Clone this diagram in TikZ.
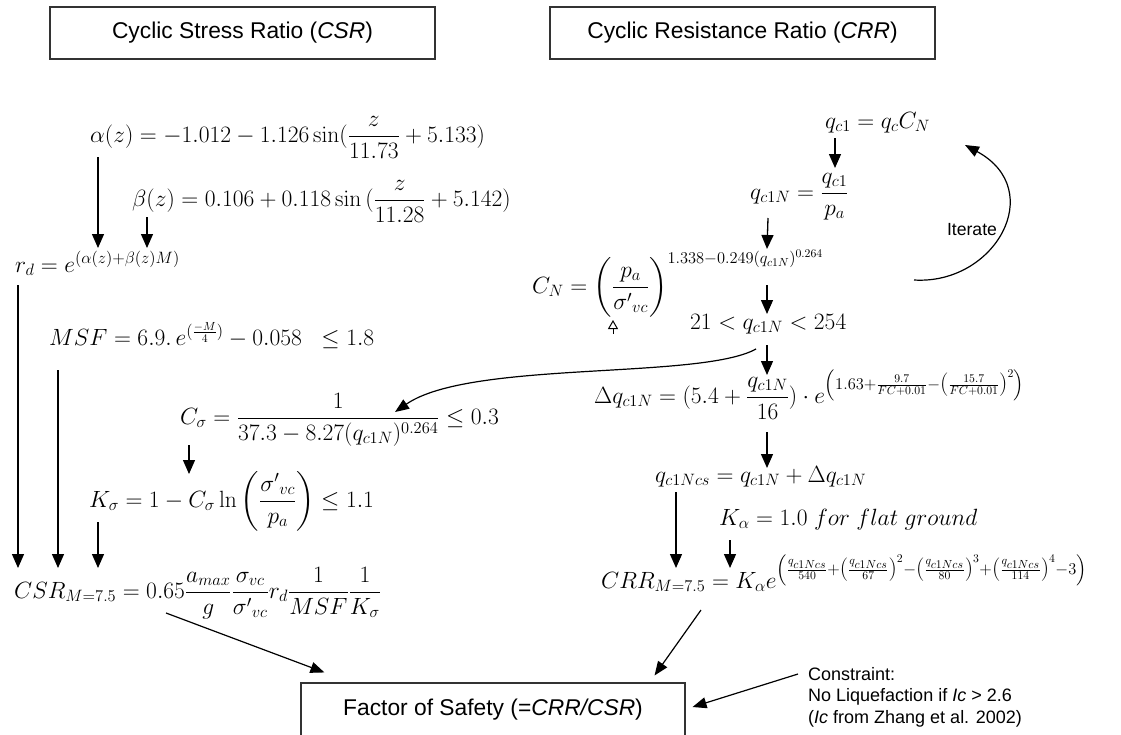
\RequirePackage{fix-cm}
\documentclass[tikz,border=0pt]{standalone}
\usepackage{amsmath}
\usepackage[no-math]{fontspec}
\setmainfont{Liberation Sans}
\usetikzlibrary{arrows.meta,calc}
\newcommand\eqfont{\fontsize{23.5}{28}\selectfont}
\tikzset{
  eq/.style={inner sep=0pt, anchor=base west, font=\eqfont},
  titlebox/.style={draw=black!80, line width=1.1pt, minimum width=385pt, minimum height=52pt, inner sep=0pt, font=\fontsize{22.8}{27}\selectfont},
  arr/.style={line width=1.3pt, -{Triangle[length=14pt,width=12pt]}},
  carr/.style={line width=1.2pt, -{Triangle[length=14pt,width=11pt]}},
  holl/.style={line width=1pt, -{Triangle[open,length=9pt,width=10pt]}},
  note/.style={font=\fontsize{18}{21.5}\selectfont, align=left, inner sep=0pt},
}
\begin{document}
\begin{tikzpicture}[x=1pt,y=-1pt]
\useasboundingbox (0,0) rectangle (1121,734);
% title boxes
\node[titlebox] (tcsr) at (242.5,33) {Cyclic Stress Ratio (\textit{CSR})};
\node[titlebox] (tcrr) at (742.5,33) {Cyclic Resistance Ratio (\textit{CRR})};
% left column
\node[eq] (alpha) at (90,142) {$\alpha(z) = -1.012 - 1.126\sin(\dfrac{z}{11.73} + 5.133)$};
\node[eq] (beta) at (132,206) {$\beta(z) = 0.106 + 0.118\sin\,(\dfrac{z}{11.28} + 5.142)$};
\node[eq] (rd) at (15,272) {$r_d = e^{(\alpha(z)+\beta(z)M)}$};
\node[eq] (msf) at (49,345) {$MSF = 6.9.\,e^{(\frac{-M}{4})} - 0.058\ \ \le 1.8$};
\node[eq] (cs) at (180,424) {$C_\sigma = \dfrac{1}{37.3-8.27(q_{c1N})^{0.264}} \le 0.3$};
\node[eq] (ks) at (89,507) {$K_\sigma = 1 - C_\sigma \ln\left(\dfrac{{\sigma'}_{vc}}{p_a}\right) \le 1.1$};
\node[eq] (csr) at (14,598) {$CSR_{M=7.5} = 0.65\dfrac{a_{max}}{g}\dfrac{\sigma_{vc}}{{\sigma'}_{vc}}r_d\dfrac{1}{MSF}\dfrac{1}{K_\sigma}$};
% right column
\node[eq] (qc1) at (825,128) {$q_{c1} = q_c C_N$};
\node[eq] (qc1n) at (750,199) {$q_{c1N} = \dfrac{q_{c1}}{p_a}$};
\node[eq] (cn) at (532,293) {$C_N = \left(\dfrac{p_a}{{\sigma'}_{vc}}\right)^{1.338-0.249(q_{c1N})^{0.264}}$};
\node[eq] (range) at (690,329) {$21 < q_{c1N} < 254$};
\node[eq] (dq) at (594,403) {$\Delta q_{c1N} = (5.4+\dfrac{q_{c1N}}{16})\cdot e^{\left(1.63+\frac{9.7}{FC+0.01}-\left(\frac{15.7}{FC+0.01}\right)^2\right)}$};
\node[eq] (qcs) at (655,482) {$q_{c1Ncs} = q_{c1N} + \Delta q_{c1N}$};
\node[eq] (ka) at (719,525) {$K_\alpha = 1.0\ for\ flat\ ground$};
\node[eq] (crr) at (601,588) {$CRR_{M=7.5} = K_\alpha e^{\left(\frac{q_{c1Ncs}}{540}+\left(\frac{q_{c1Ncs}}{67}\right)^2-\left(\frac{q_{c1Ncs}}{80}\right)^3+\left(\frac{q_{c1Ncs}}{114}\right)^4-3\right)}$};
% result
\node[draw=black!80, line width=1.1pt, minimum width=384pt, minimum height=54pt, inner sep=0pt, font=\fontsize{22.8}{27}\selectfont] (fs) at (493,710) {Factor of Safety (=\textit{CRR/CSR})};
\node[note, anchor=north west] (cons) at (808,667) {Constraint:\\No Liquefaction if \textit{Ic} > 2.6\\(\textit{Ic} from Zhang et al. 2002)};
\node[font=\fontsize{17.6}{20}\selectfont, inner sep=0pt] (iter) at (972,230) {Iterate};
% left arrows
\draw[arr] ($(alpha.base west)+(8,15)$) -- ($(rd.base west)+(83,-24)$);
\draw[arr] ($(beta.base west)+(15,11)$) -- ($(rd.base west)+(132,-24)$);
\draw[arr] ($(rd.base west)+(3,13)$) -- ($(csr.base west)+(4,-30)$);
\draw[arr] ($(msf.base west)+(9,25)$) -- ($(csr.base west)+(44,-30)$);
\draw[arr] ($(cs.base west)+(9,21)$) -- ($(ks.base west)+(100,-33)$);
\draw[arr] ($(ks.base west)+(9,15)$) -- ($(csr.base west)+(84,-30)$);
% right arrows
\draw[arr] ($(qc1.base west)+(10,10)$) -- ($(qc1n.base west)+(85,-31)$);
\draw[arr] ($(qc1n.base west)+(18,19)$) -- ($(cn.base west)+(235,-44)$);
\draw[arr] ($(cn.base west)+(235,-8)$) -- ($(range.base west)+(77,-15)$);
\draw[arr] ($(range.base west)+(77,16)$) -- ($(dq.base west)+(173,-28)$);
\draw[arr] ($(dq.base west)+(173,29)$) -- ($(qcs.base west)+(112,-14)$);
\draw[arr] ($(qcs.base west)+(21,10)$) -- ($(crr.base west)+(75,-20)$);
\draw[arr] ($(ka.base west)+(11,15)$) -- ($(crr.base west)+(129,-20)$);
\draw[holl] ($(cn.base west)+(81,41)$) -- ($(cn.base west)+(81,27)$);
% curved connectors
\draw[carr] ($(range.base west)+(66,20)$) .. controls (700,380) and (470,360) .. ($(cs.base west)+(215,-12)$);
\coordinate (itS) at (914,280);
\coordinate (itE) at (965,145);
\draw[carr] (itS) .. controls (995,285) and (1048,190) .. (itE);
% to factor of safety
\draw[carr] ($(csr.base west)+(152,15)$) -- ([xshift=24pt,yshift=10pt]fs.north west);
\draw[carr] ($(crr.base west)+(100,22)$) -- ([xshift=-31pt,yshift=7pt]fs.north east);
\draw[carr] ([xshift=-10pt,yshift=-7pt]cons.north west) -- ([xshift=7pt,yshift=3pt]fs.east);
\end{tikzpicture}
\end{document}
